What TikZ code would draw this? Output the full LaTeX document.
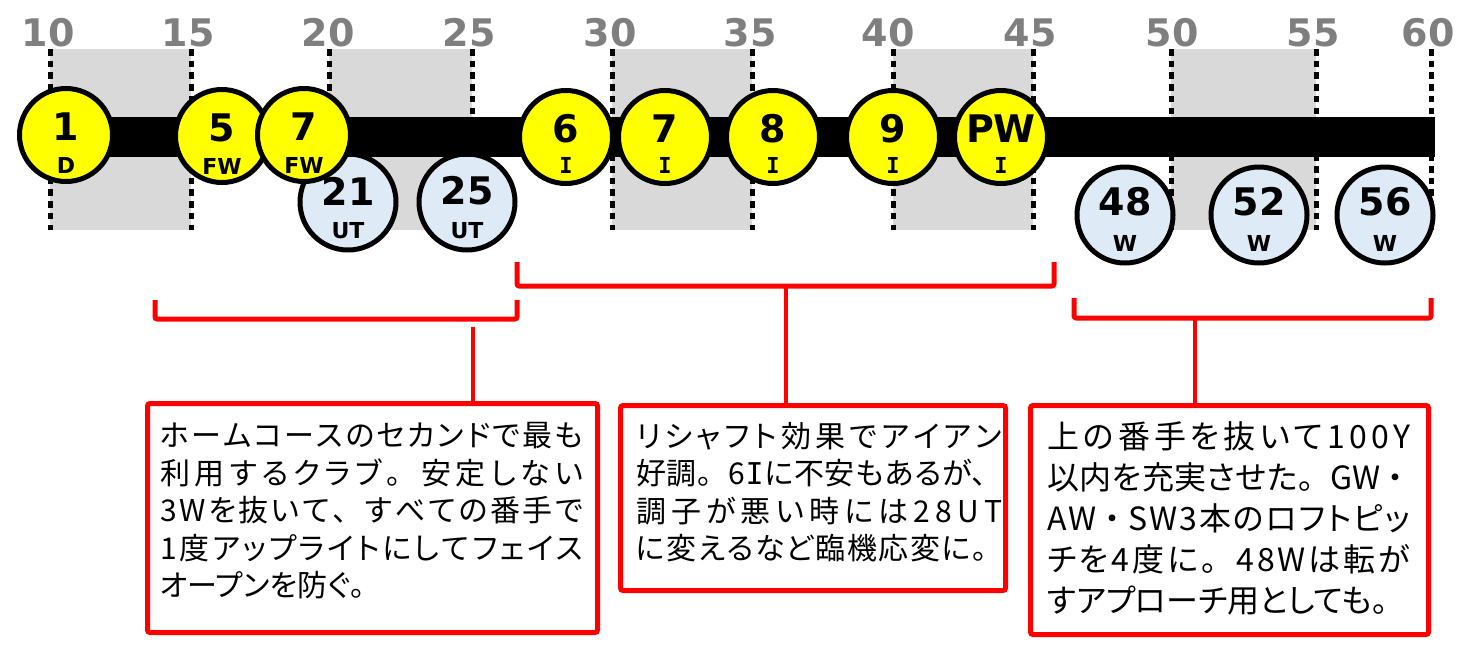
\documentclass[tikz,border=0pt]{standalone}
\usepackage{fontspec}
\newfontfamily\labfont{DejaVu Sans}
\newfontfamily\serifIfont{DejaVu Sans Mono}
\newfontfamily\jpfont[RawFeature=+palt]{Noto Sans CJK JP}
\definecolor{bandgray}{HTML}{D9D9D9}
\definecolor{tickgray}{HTML}{7F7F7F}
\definecolor{clubyellow}{HTML}{FFFF00}
\definecolor{clubblue}{HTML}{DEEBF7}
\definecolor{notered}{HTML}{FF0000}
\newcommand{\serifI}{{\serifIfont I}}
\newcommand{\kt}{\makebox[1em][l]{。}}
\newcommand{\tn}{\makebox[1em][l]{、}}
\newcommand{\nk}{\makebox[0.9em][c]{・}}
\def\sprd#1{#1\sprdnext}
\def\sprdnext#1{\ifx#1\relax\else\hfil#1\expandafter\sprdnext\fi}
\newcommand{\jline}[2]{\makebox[#1][s]{\sprd#2\relax}}
\newcommand{\clubnode}[9]{%
  \node[#4] (#1) at (#2,#3) {};
  \node[numlab] (#1n) at ([yshift=#8]#1.center) {#5};
  \node[sublab] (#1s) at ([yshift=#9]#1.center) {#6};
  #7}
\begin{document}
\begin{tikzpicture}[x=1pt,y=-1pt,
  band/.style={fill=bandgray},
  tickline/.style={line width=5pt,dash pattern=on 6.5pt off 5.2pt},
  ticklab/.style={font=\labfont\bfseries\fontsize{38}{38}\selectfont,text=tickgray,inner sep=0pt,anchor=base},
  bar/.style={fill=black},
  wood/.style={circle,draw=black,line width=5pt,fill=clubyellow,minimum size=93pt,inner sep=0pt},
  iron/.style={wood},
  lowclub/.style={circle,draw=black,line width=5pt,fill=clubblue,minimum size=96pt,inner sep=0pt},
  numlab/.style={font=\labfont\bfseries\fontsize{38}{38}\selectfont,inner sep=0pt},
  sublab/.style={font=\labfont\bfseries\fontsize{22}{22}\selectfont,inner sep=0pt},
  bracket/.style={draw=notered,line width=5pt,line join=round,rounded corners=2pt},
  stem/.style={draw=notered,line width=4.5pt},
  notebox/.style={draw=notered,line width=5pt,rounded corners=2.5pt,fill=white,inner sep=0pt},
  notetext/.style={font=\jpfont\fontsize{30}{37.5}\selectfont,align=left,inner sep=0pt,anchor=west},
]
\useasboundingbox (0,0) rectangle (1467,654);
\fill[white] (0,0) rectangle (1467,654);

% shaded bands
\fill[band] (50,49) rectangle (191,230);
\fill[band] (329,49) rectangle (472,230);
\fill[band] (612,49) rectangle (752,230);
\fill[band] (893,49) rectangle (1033,230);
\fill[band] (1171,49) rectangle (1316,230);

% dotted tick lines and labels
\foreach \tx/\lx/\v in {50/48/10,191/188/15,329/328/20,472/469/25,612/610/30,752/750/35,893/888/40,1033/1030/45,1171/1172/50,1316/1313/55,1431/1428/60}{
  \draw[tickline] (\tx,49) -- (\tx,230);
  \node[ticklab] (lab\v) at (\lx,46) {\v};
}

% lower clubs (utilities, wedges)
\clubnode{u21}{348}{202}{lowclub}{21}{UT}{}{11pt}{-29pt}
\clubnode{u25}{467}{202}{lowclub}{25}{UT}{}{11pt}{-29pt}
\clubnode{w48}{1125}{215}{lowclub}{48}{W}{}{13pt}{-28pt}
\clubnode{w52}{1259}{215}{lowclub}{52}{W}{}{13pt}{-28pt}
\clubnode{w56}{1385}{215}{lowclub}{56}{W}{}{13pt}{-28pt}

% black bar
\fill[bar] (22,117) rectangle (1435,157);

% upper clubs
\clubnode{d1}{66}{135}{wood}{1}{D}{}{8pt}{-30pt}
\clubnode{f5}{222}{136}{wood}{5}{FW}{}{8pt}{-30pt}
\clubnode{f7}{304}{135}{wood}{7}{FW}{}{8pt}{-30pt}
\clubnode{i6}{566}{137}{iron}{6}{\serifI}{}{8pt}{-28pt}
\clubnode{i7}{665}{137}{iron}{7}{\serifI}{}{8pt}{-28pt}
\clubnode{i8}{773}{137}{iron}{8}{\serifI}{}{8pt}{-28pt}
\clubnode{i9}{893}{137}{iron}{9}{\serifI}{}{8pt}{-28pt}
\clubnode{ipw}{1001}{137}{iron}{PW}{\serifI}{}{8pt}{-28pt}

% brackets
\draw[bracket] (155,300) -- (155,319) -- (517,319) -- (517,300);
\draw[bracket] (517,262) -- (517,286) -- (1054,286) -- (1054,262);
\draw[bracket] (1074,298) -- (1074,318) -- (1431,318) -- (1431,298);
\coordinate (k1) at (473,327);
\coordinate (k2) at (786,286);
\coordinate (k3) at (1195,318);

% note boxes
\node[notebox,minimum width=450pt,minimum height=229pt] (b1) at (372.5,518) {};
\node[notebox,minimum width=385pt,minimum height=185pt] (b2) at (813,498) {};
\node[notebox,minimum width=398pt,minimum height=229pt] (b3) at (1229.5,520) {};

\draw[stem] (k1) -- (k1 |- b1.north);
\draw[stem] (k2) -- (k2 |- b2.north);
\draw[stem] (k3) -- (k3 |- b3.north);

\node[notetext] (t1) at (160,511) {\jline{423pt}{ホームコースのセカンドで最も}\\\jline{423pt}{利用するクラブ\kt 安定しない}\\\jline{423pt}{3Wを抜いて\tn すべての番手で}\\\jline{423pt}{1度アップライトにしてフェイス}\\オープンを防ぐ\kt};
\node[notetext] (t2) at (636,492) {\jline{366pt}{リシャフト効果でアイアン}\\\jline{366pt}{好調\kt 6\serifI に不安もあるが\tn}\\\jline{366pt}{調子が悪い時には28UT}\\\jline{366pt}{に変えるなど臨機応変に\kt}};
\node[notetext,font=\jpfont\fontsize{32}{41}\selectfont] (t3) at (1047,518) {\jline{363pt}{上の番手を抜いて100Y}\\\jline{363pt}{以内を充実させた\kt GW\nk}\\\jline{363pt}{AW\nk SW3本のロフトピッ}\\\jline{363pt}{チを4度に\kt 48Wは転が}\\すアプローチ用としても\kt};
\end{tikzpicture}
\end{document}
